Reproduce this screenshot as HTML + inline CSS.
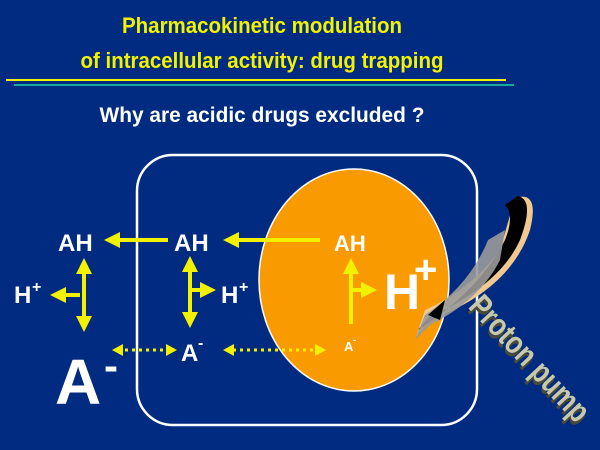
<!DOCTYPE html>
<html><head><style>html,body{margin:0;padding:0;background:#002b80;}svg{display:block}</style></head>
<body>
<svg width="600" height="450" viewBox="0 0 600 450" xmlns="http://www.w3.org/2000/svg" font-family="Liberation Sans, sans-serif" font-weight="bold">
<defs>
<marker id="ah" markerWidth="4" markerHeight="4" refX="1" refY="2" orient="auto" markerUnits="strokeWidth"><path d="M0,0 L4,2 L0,4 z" fill="#f2f200"/></marker>
</defs>
<rect width="600" height="450" fill="#002b80"/>
<text x="262" y="33" font-size="22" fill="#f2f200" text-anchor="middle" textLength="280" lengthAdjust="spacingAndGlyphs">Pharmacokinetic modulation</text>
<text x="262" y="68" font-size="22" fill="#f2f200" text-anchor="middle" textLength="363" lengthAdjust="spacingAndGlyphs">of intracellular activity: drug trapping</text>
<rect x="6" y="79" width="500" height="2" fill="#f2f200"/>
<rect x="14" y="84" width="500" height="2" fill="#1aa89a"/>
<text x="262" y="122" font-size="21" fill="#fff" text-anchor="middle" textLength="325" lengthAdjust="spacingAndGlyphs">Why are acidic drugs excluded  ?</text>

<rect x="137" y="155" width="340" height="270" rx="36" fill="none" stroke="#fff" stroke-width="2.5"/>
<ellipse cx="354" cy="280" rx="95" ry="111" fill="#f89a00" stroke="#fff" stroke-width="1.5"/>

<g fill="#fff" font-size="24">
<text x="58" y="251">AH</text>
<text x="174" y="251">AH</text>
<text x="334" y="251" font-size="22">AH</text>
<text x="14" y="303">H</text><text x="32" y="292" font-size="16">+</text>
<text x="221" y="303">H</text><text x="239" y="292" font-size="16">+</text>
<text x="181" y="361">A</text><text x="198" y="348" font-size="16">-</text>
<text x="344" y="351" font-size="13">A</text><text x="353" y="343" font-size="10">-</text>
<text x="384" y="309" font-size="50">H</text><text x="414" y="283" font-size="40">+</text>
<text x="55" y="404" font-size="64">A</text><text x="104" y="380" font-size="42">-</text>
</g>

<g stroke="#f2f200" stroke-width="4" fill="none">
<line x1="168" y1="240" x2="116" y2="240" marker-end="url(#ah)"/>
<line x1="320" y1="240" x2="235" y2="240" marker-end="url(#ah)"/>
<line x1="84" y1="275" x2="84" y2="270" marker-end="url(#ah)"/>
<line x1="84" y1="300" x2="84" y2="320" marker-end="url(#ah)"/>
<line x1="84" y1="270" x2="84" y2="320"/>
<line x1="80" y1="295" x2="62" y2="295" marker-end="url(#ah)"/>
<line x1="190" y1="275" x2="190" y2="268" marker-end="url(#ah)"/>
<line x1="190" y1="300" x2="190" y2="316" marker-end="url(#ah)"/>
<line x1="190" y1="268" x2="190" y2="316"/>
<line x1="190" y1="290" x2="204" y2="290" marker-end="url(#ah)"/>
<line x1="351" y1="320" x2="351" y2="270" marker-end="url(#ah)"/>
<line x1="351" y1="324" x2="351" y2="280"/>
<line x1="351" y1="290" x2="365" y2="290" marker-end="url(#ah)"/>
</g>
<g stroke="#f2f200" stroke-width="3" fill="none" stroke-dasharray="3,4">
<line x1="125" y1="350" x2="165" y2="350"/>
<line x1="233" y1="350" x2="316" y2="350"/>
</g>
<g fill="#f2f200">
<path d="M112,350 L123,344 L123,356z"/><path d="M177,350 L166,344 L166,356z"/>
<path d="M223,350 L234,344 L234,356z"/><path d="M326,350 L315,344 L315,356z"/>
</g>

<path d="M515,198 Q540,190 530,230 Q510,290 430,320 L416,337 L425,310 Q470,290 500,250z" fill="#f0c890"/>
<path d="M518,196 Q535,200 520,240 Q500,285 428,318 L418,330 Q480,290 505,240 Q515,215 505,205z" fill="#000"/>
<path d="M488,240 L505,230 L500,260 Q480,300 430,325 L415,340 L425,315 Q470,285 488,240z" fill="#9a9a9a" opacity="0.9"/>
<path d="M428,315 L445,300 L440,320z" fill="#000"/>
<g transform="translate(468,308) rotate(47)">
<text x="1" y="3" font-size="32" fill="#4a4a3a" textLength="160" lengthAdjust="spacingAndGlyphs">Proton pump</text>
<text x="-1" y="0" font-size="32" fill="#c8c8aa" textLength="160" lengthAdjust="spacingAndGlyphs">Proton pump</text>
</g>
</svg>
</body></html>
